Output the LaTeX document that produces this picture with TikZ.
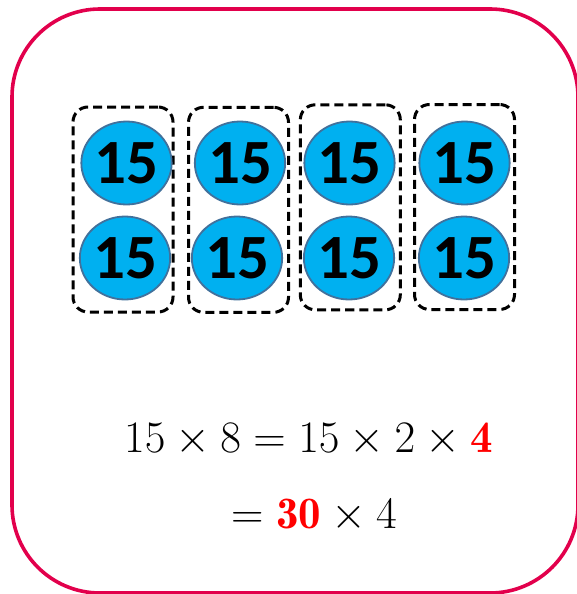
\RequirePackage{fix-cm}
\documentclass[tikz,border=0pt]{standalone}
\usepackage{amsmath,amssymb}
\usepackage{fontspec}
\usepackage{xcolor}
\usetikzlibrary{shapes.geometric,positioning}
\newfontfamily\coinfont{Carlito}
\definecolor{framered}{RGB}{226,0,76}
\definecolor{coinblue}{RGB}{0,176,240}
\definecolor{coinedge}{RGB}{65,113,156}
\definecolor{eqred}{RGB}{255,0,0}

\begin{document}
\begin{tikzpicture}[x=1pt,y=-1pt,
  coin/.style={ellipse,draw=coinedge,line width=1.8pt,fill=coinblue,minimum width=87pt,minimum height=83pt,inner sep=0pt,font=\coinfont\bfseries\fontsize{63}{63}\selectfont},
  pairbox/.style={draw,dashed,line width=3pt,dash pattern=on 9pt off 5pt,rounded corners=15pt,minimum width=100pt,minimum height=205pt,inner sep=0pt},
  eq/.style={inner sep=0pt,font=\fontsize{45}{54}\selectfont}]
\useasboundingbox (0,0) rectangle (576,594);
\draw[framered,line width=3.6pt,rounded corners=88pt] (12,9) rectangle (578,593);
% pairs of fifteens
\node[pairbox] (box1) at (123,209.5) {};
\node[pairbox] (box2) at (238.5,209.8) {};
\node[pairbox] (box3) at (350.3,207.3) {};
\node[pairbox] (box4) at (464.5,207) {};
\node[coin] (c1a) at (126.5,163) {15};
\node[coin] (c1b) at (125,258) {15};
\node[coin] (c2a) at (240,163) {15};
\node[coin] (c2b) at (237,258) {15};
\node[coin] (c3a) at (349.5,163) {15};
\node[coin] (c3b) at (349,258) {15};
\node[coin] (c4a) at (464.5,163) {15};
\node[coin] (c4b) at (464,258) {15};
% working
\node[eq,anchor=base] (line1) at (308.5,452) {$15\times 8=15\times 2\times\textcolor{eqred}{\mathbf{4}}$};
\node[eq,anchor=base] (line2) at (314,528) {$=\textcolor{eqred}{\mathbf{30}}\times 4$};
\end{tikzpicture}
\end{document}
